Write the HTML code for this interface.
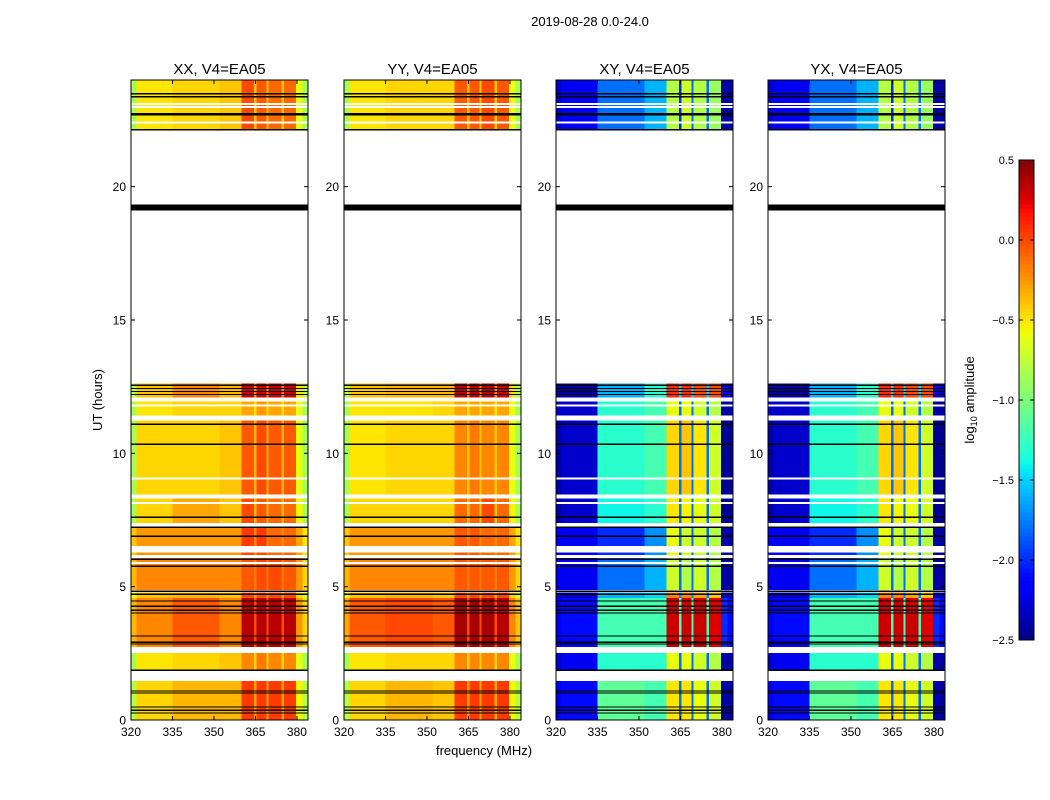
<!DOCTYPE html>
<html><head><meta charset="utf-8"><style>
body{margin:0;background:#fff;}
svg{display:block;font-family:"Liberation Sans","DejaVu Sans",sans-serif;}
</style></head><body>
<svg id="fig" width="1050" height="800" viewBox="0 0 1050 800">
<text x="590" y="26" font-size="13" text-anchor="middle">2019-08-28 0.0-24.0</text>
<text x="484" y="755" font-size="13" text-anchor="middle">frequency (MHz)</text>
<text x="0" y="0" font-size="13" text-anchor="middle" transform="translate(102,400) rotate(-90)">UT (hours)</text>
<text x="0" y="0" font-size="13" text-anchor="middle" transform="translate(974,400) rotate(-90)">log<tspan font-size="9" dy="3">10</tspan><tspan dy="-3"> amplitude</tspan></text>
</svg>
<script>
const freqEdges=[320,322,335,352,360,364.5,365.3,369,369.8,374.5,375.3,379.6,382,384];
const segStart=[22.15,12.10,11.42,8.46,7.38,6.52,6.18,4.87,4.57,2.73,1.87,0];
const segEnd=[24,12.62,11.95,11.24,8.31,7.23,6.29,6.07,4.79,4.57,2.51,1.46];
const valsXX=[
[-0.85,-0.5,-0.45,-0.4,0.0,-0.4,-0.05,-0.4,-0.1,-0.4,-0.1,-0.6,-0.85],
[-0.8,-0.4,-0.2,-0.35,0.3,-0.2,0.3,-0.2,0.3,-0.2,0.3,-0.5,-0.8],
[-0.85,-0.5,-0.45,-0.45,-0.3,-0.5,-0.25,-0.5,-0.3,-0.5,-0.3,-0.6,-0.85],
[-0.85,-0.45,-0.45,-0.4,-0.05,-0.35,0.0,-0.35,-0.05,-0.35,-0.05,-0.6,-0.85],
[-0.85,-0.45,-0.3,-0.4,0.0,-0.35,-0.05,-0.35,-0.1,-0.35,-0.1,-0.55,-0.85],
[-0.4,-0.25,-0.25,-0.25,0.05,-0.2,0.05,-0.2,-0.1,-0.2,-0.1,-0.3,-0.5],
[-0.4,-0.25,-0.25,-0.25,0.0,-0.2,0.0,-0.2,-0.1,-0.2,-0.1,-0.3,-0.5],
[-0.35,-0.2,-0.2,-0.2,-0.05,-0.15,0.0,-0.15,0.0,-0.15,-0.05,-0.25,-0.45],
[-0.6,-0.4,-0.35,-0.4,0.0,-0.3,0.0,-0.3,0.0,-0.3,0.0,-0.45,-0.7],
[-0.35,-0.2,-0.05,-0.2,0.35,0.0,0.35,0.0,0.35,0.0,0.35,-0.25,-0.45],
[-0.85,-0.5,-0.45,-0.4,-0.2,-0.45,-0.15,-0.45,-0.2,-0.45,-0.2,-0.6,-0.85],
[-0.8,-0.45,-0.35,-0.35,0.05,-0.3,0.05,-0.3,0.05,-0.3,0.05,-0.55,-0.8]];
const valsYY=[
[-0.85,-0.5,-0.45,-0.45,-0.05,-0.4,-0.05,-0.4,0.0,-0.4,-0.05,-0.6,-0.85],
[-0.8,-0.4,-0.35,-0.35,0.35,-0.2,0.35,-0.2,0.35,-0.2,0.3,-0.5,-0.8],
[-0.85,-0.5,-0.5,-0.45,-0.3,-0.5,-0.3,-0.5,-0.3,-0.5,-0.3,-0.6,-0.85],
[-0.85,-0.5,-0.45,-0.45,-0.2,-0.4,-0.15,-0.4,-0.2,-0.4,-0.2,-0.6,-0.85],
[-0.85,-0.45,-0.45,-0.45,-0.1,-0.4,-0.1,-0.4,0.0,-0.4,-0.1,-0.55,-0.85],
[-0.4,-0.25,-0.25,-0.25,-0.05,-0.2,-0.05,-0.2,-0.1,-0.2,-0.1,-0.3,-0.5],
[-0.4,-0.25,-0.25,-0.25,-0.05,-0.2,-0.05,-0.2,-0.1,-0.2,-0.1,-0.3,-0.5],
[-0.35,-0.2,-0.2,-0.2,-0.05,-0.15,-0.05,-0.15,-0.05,-0.15,-0.05,-0.25,-0.45],
[-0.6,-0.4,-0.35,-0.4,0.0,-0.3,0.0,-0.3,0.0,-0.3,0.0,-0.45,-0.7],
[-0.3,-0.05,0.0,-0.05,0.4,0.0,0.4,0.0,0.4,0.0,0.35,-0.2,-0.4],
[-0.85,-0.5,-0.45,-0.45,-0.2,-0.45,-0.2,-0.45,-0.2,-0.45,-0.2,-0.6,-0.85],
[-0.8,-0.45,-0.35,-0.4,0.05,-0.3,0.05,-0.3,0.05,-0.3,0.05,-0.55,-0.8]];
const valsXY=[
[-2.3,-2.2,-1.8,-1.6,-0.8,-2.0,-0.7,-1.8,-0.8,-1.8,-0.9,-2.4,-2.4],
[-2.4,-2.4,-1.6,-1.3,0.1,-1.5,0.1,-1.5,0.0,-1.5,0.0,-2.2,-2.3],
[-2.3,-2.3,-1.3,-1.2,-0.6,-1.8,-0.6,-1.8,-0.7,-1.8,-0.8,-2.4,-2.4],
[-2.4,-2.3,-1.3,-1.2,-0.45,-1.8,-0.4,-1.8,-0.5,-1.8,-0.7,-2.45,-2.45],
[-2.4,-2.3,-1.4,-1.3,-0.5,-1.8,-0.55,-1.8,-0.6,-1.8,-0.7,-2.45,-2.45],
[-2.2,-2.2,-2.0,-1.7,-0.6,-1.8,-0.7,-1.8,-0.7,-1.8,-0.8,-2.4,-2.4],
[-2.2,-2.2,-2.0,-1.7,-0.6,-1.8,-0.7,-1.8,-0.7,-1.8,-0.8,-2.4,-2.4],
[-2.2,-2.2,-1.8,-1.6,-0.7,-1.8,-0.8,-1.8,-0.7,-1.8,-0.8,-2.4,-2.4],
[-2.3,-2.3,-1.6,-1.5,-0.2,-1.7,-0.2,-1.7,-0.3,-1.7,-0.4,-2.3,-2.3],
[-2.2,-2.1,-1.2,-1.2,0.3,-1.2,0.3,-1.2,0.3,-1.2,0.25,-2.0,-2.1],
[-2.3,-2.2,-1.3,-1.3,-0.6,-1.8,-0.6,-1.8,-0.7,-1.8,-0.8,-2.4,-2.4],
[-2.2,-2.1,-1.1,-1.2,-0.5,-1.8,-0.5,-1.8,-0.6,-1.8,-0.7,-2.4,-2.4]];
const valsYX=[
[-2.3,-2.2,-1.8,-1.6,-0.8,-2.0,-0.7,-1.8,-0.8,-1.8,-0.9,-2.4,-2.4],
[-2.4,-2.4,-1.6,-1.3,0.1,-1.5,0.1,-1.5,0.0,-1.5,0.0,-2.2,-2.3],
[-2.3,-2.3,-1.3,-1.2,-0.6,-1.8,-0.6,-1.8,-0.7,-1.8,-0.8,-2.4,-2.4],
[-2.4,-2.3,-1.3,-1.2,-0.45,-1.8,-0.4,-1.8,-0.5,-1.8,-0.7,-2.45,-2.45],
[-2.4,-2.3,-1.4,-1.3,-0.5,-1.8,-0.55,-1.8,-0.6,-1.8,-0.7,-2.45,-2.45],
[-2.2,-2.2,-2.0,-1.7,-0.6,-1.8,-0.7,-1.8,-0.7,-1.8,-0.8,-2.4,-2.4],
[-2.2,-2.2,-2.0,-1.7,-0.6,-1.8,-0.7,-1.8,-0.7,-1.8,-0.8,-2.4,-2.4],
[-2.2,-2.2,-1.8,-1.6,-0.7,-1.8,-0.8,-1.8,-0.7,-1.8,-0.8,-2.4,-2.4],
[-2.3,-2.3,-1.6,-1.5,-0.2,-1.7,-0.2,-1.7,-0.3,-1.7,-0.4,-2.3,-2.3],
[-2.2,-2.1,-1.2,-1.2,0.3,-1.2,0.3,-1.2,0.3,-1.2,0.25,-2.0,-2.1],
[-2.3,-2.2,-1.3,-1.3,-0.6,-1.8,-0.6,-1.8,-0.7,-1.8,-0.8,-2.4,-2.4],
[-2.2,-2.1,-1.1,-1.2,-0.5,-1.8,-0.5,-1.8,-0.6,-1.8,-0.7,-2.4,-2.4]];
const blackLines=[23.48,23.37,22.73,22.70,22.13,12.55,12.43,12.32,12.21,11.09,10.34,7.60,7.23,6.89,6.03,5.77,4.83,4.72,4.46,4.27,4.12,4.01,3.15,2.92,2.85,1.87,1.09,1.01,0.49,0.37,0.26];
const whiteLines=[23.1,22.99,22.4,11.8,9.06,8.13,5.88];
const thickBand=[19.1,19.33];
const panelTitles=["XX, V4=EA05","YY, V4=EA05","XY, V4=EA05","YX, V4=EA05"];
const yTicks=[0,5,10,15,20];
const xTicks=[320,335,350,365,380];
const cbTicks=[0.5,0.0,-0.5,-1.0,-1.5,-2.0,-2.5];
const cbLabels=["0.5","0.0","\u22120.5","\u22121.0","\u22121.5","\u22122.0","\u22122.5"];

const NS="http://www.w3.org/2000/svg";
const svg=document.getElementById('fig');
const panelX=[131,344,556,768], PW=177, TOP=80, BOT=720;
const vmin=-2.5,vmax=0.5,fmin=320,fmax=384,hmin=0,hmax=24;
function interp(pts,t){for(let i=1;i<pts.length;i++){if(t<=pts[i][0]){const a=pts[i-1],b=pts[i];return a[1]+(b[1]-a[1])*(t-a[0])/(b[0]-a[0]);}}return pts[pts.length-1][1];}
const JR=[[0,0],[0.35,0],[0.66,1],[0.89,1],[1,0.5]];
const JG=[[0,0],[0.125,0],[0.375,1],[0.64,1],[0.91,0],[1,0]];
const JB=[[0,0.5],[0.11,1],[0.34,1],[0.65,0],[1,0]];
function jet(v){let t=(v-vmin)/(vmax-vmin);t=Math.max(0,Math.min(1,t));
 const c=x=>Math.round(255*x);
 return `rgb(${c(interp(JR,t))},${c(interp(JG,t))},${c(interp(JB,t))})`;}
function el(tag,a,parent){const e=document.createElementNS(NS,tag);for(const k in a)e.setAttribute(k,a[k]);(parent||svg).appendChild(e);return e;}
const yScale=h=>BOT-(h-hmin)/(hmax-hmin)*(BOT-TOP);
const allVals=[valsXX,valsYY,valsXY,valsYX];
const panelNames=['xx','yy','xy','yx'];
allVals.forEach((vals,p)=>{
 const x0=panelX[p];
 const xScale=f=>x0+(f-fmin)/(fmax-fmin)*PW;
 const g=el('g',{'shape-rendering':'crispEdges'});
 
 
 segStart.forEach((s,i)=>{
  for(let j=0;j<freqEdges.length-1;j++){
   const xa=xScale(freqEdges[j]),xb=xScale(freqEdges[j+1]);
   const ya=yScale(segEnd[i]),yb=yScale(segStart[i]);
   const r=el('rect',{x:xa,y:ya,width:xb-xa+0.3,height:yb-ya,fill:jet(vals[i][j])},g);
   
   
  }
 });
 whiteLines.forEach(h=>{const l=el('line',{x1:x0,x2:x0+PW,y1:yScale(h),y2:yScale(h),stroke:'#fff','stroke-width':2},g);
  });
 blackLines.forEach(h=>{const l=el('line',{x1:x0,x2:x0+PW,y1:yScale(h),y2:yScale(h),stroke:'#000','stroke-width':1.3},g);
  });
 const tb=el('rect',{x:x0,y:yScale(thickBand[1]),width:PW,height:yScale(thickBand[0])-yScale(thickBand[1]),fill:'#000'},g);
 
 const fr=el('rect',{x:x0,y:TOP,width:PW,height:BOT-TOP,fill:'none',stroke:'#000','stroke-width':1});
 
 const t=el('text',{x:x0+PW/2,y:74,'font-size':15,'text-anchor':'middle'});t.textContent=panelTitles[p];
 
 yTicks.forEach(h=>{const y=yScale(h);
  el('line',{x1:x0,x2:x0+4,y1:y,y2:y,stroke:'#000'});el('line',{x1:x0+PW-4,x2:x0+PW,y1:y,y2:y,stroke:'#000'});
  const tl=el('text',{x:x0-5,y:y+4.5,'font-size':12,'text-anchor':'end'});tl.textContent=h;
  });
 xTicks.forEach(f=>{const x=xScale(f);
  el('line',{x1:x,x2:x,y1:BOT,y2:BOT-4,stroke:'#000'});el('line',{x1:x,x2:x,y1:TOP,y2:TOP+4,stroke:'#000'});
  const tl=el('text',{x:x,y:BOT+16,'font-size':12,'text-anchor':'middle'});tl.textContent=f;
  });
});
// colorbar
const CBX=1019,CBW=15,CBT=160,CBB=640;
const cbY=v=>CBB-(v-vmin)/(vmax-vmin)*(CBB-CBT);
const cg=el('g',{'shape-rendering':'crispEdges'});


for(let i=0;i<120;i++){const v=vmin+(i+0.5)*(vmax-vmin)/120;
 el('rect',{x:CBX,y:CBB-(i+1)*(CBB-CBT)/120,width:CBW,height:(CBB-CBT)/120+0.5,fill:jet(v)},cg);}
el('rect',{x:CBX,y:CBT,width:CBW,height:CBB-CBT,fill:'none',stroke:'#000'});
cbTicks.forEach((v,i)=>{const y=cbY(v);
 el('line',{x1:CBX,x2:CBX+4,y1:y,y2:y,stroke:'#000'});
 el('line',{x1:CBX+CBW-4,x2:CBX+CBW,y1:y,y2:y,stroke:'#000'});
 const tl=el('text',{x:CBX-5,y:y+4,'font-size':11,'text-anchor':'end'});tl.textContent=cbLabels[i];
 });
</script>
</body></html>
